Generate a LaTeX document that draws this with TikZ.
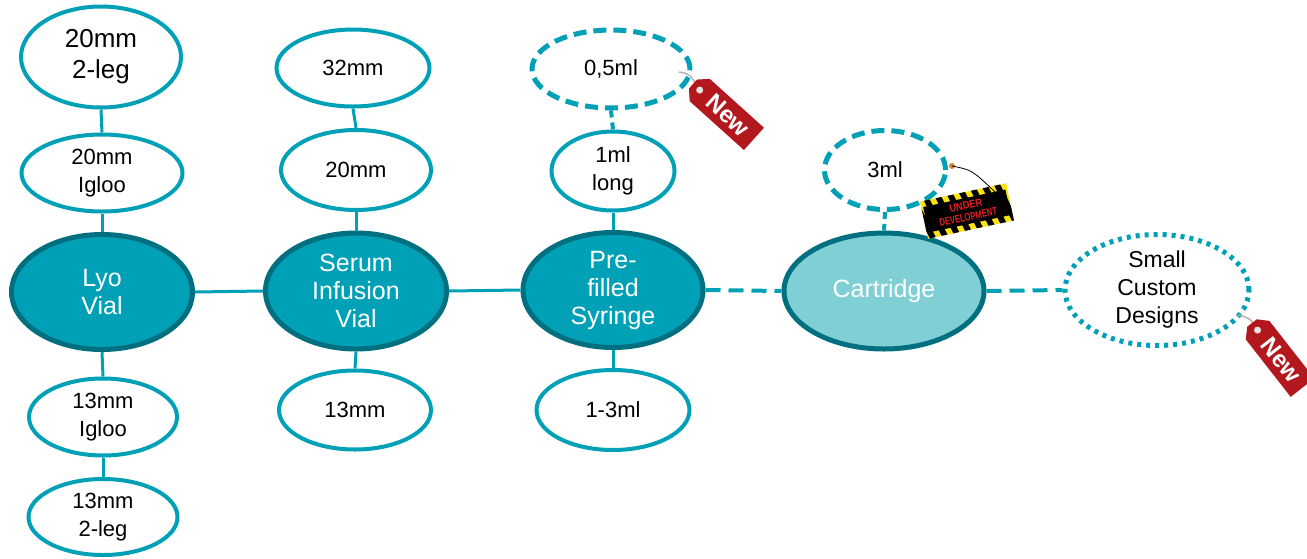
\documentclass[tikz,border=0pt]{standalone}
\usepackage{fontspec}
\setmainfont{Liberation Sans}
\usetikzlibrary{shapes.geometric}
\definecolor{tealline}{RGB}{0,160,183}
\definecolor{tealdark}{RGB}{0,112,128}
\definecolor{teallight}{RGB}{128,207,213}
\definecolor{tagred}{RGB}{178,24,30}
\definecolor{signyellow}{RGB}{250,225,20}
\definecolor{signred}{RGB}{225,30,35}
\definecolor{nailorange}{RGB}{220,130,40}

\tikzset{
  mainnode/.style={ellipse,draw=tealdark,line width=5pt,fill=tealline,text=white,inner sep=0pt,align=center,font=\fontsize{25}{28}\selectfont},
  subnode/.style={ellipse,draw=tealline,line width=4pt,fill=white,inner sep=0pt,align=center,font=\fontsize{22}{28}\selectfont},
  subdash/.style={subnode,line width=5pt,dash pattern=on 13pt off 7pt},
  subdot/.style={subnode,line width=5pt,dash pattern=on 4pt off 5pt},
  conn/.style={draw=tealline,line width=3pt},
  conndash/.style={conn,line width=4pt,dash pattern=on 15pt off 8pt},
  signtext/.style={text=signred,inner sep=0pt,font=\fontsize{11}{11}\selectfont\bfseries,transform shape},
}

\newcommand{\drawnewtag}[2]{%
  \begin{scope}[shift={#1},rotate=#2]
    \fill[tagred] (0,-6) -- (9,-15) -- (82,-15) -- (82,15) -- (9,15) -- (0,6) -- cycle;
    \fill[white!80!gray] (9,0) circle (3.5pt);
    \node[text=white,inner sep=0pt,font=\fontsize{24}{24}\selectfont\bfseries,transform shape] at (47,0) {New};
  \end{scope}}

\begin{document}
\begin{tikzpicture}[x=1pt,y=-1pt]
\useasboundingbox (0,0) rectangle (1307,558);
\clip (0,0) rectangle (1307,558);

\node[mainnode,minimum width=181pt,minimum height=115pt] (lyo) at (102,292) {Lyo\\Vial};
\node[mainnode,minimum width=181pt,minimum height=116pt] (serum) at (356,291) {Serum\\Infusion\\Vial};
\node[mainnode,minimum width=180pt,minimum height=115pt] (syringe) at (613,290) {Pre-\\filled\\Syringe};
\node[mainnode,fill=teallight,minimum width=200pt,minimum height=116pt] (cartridge) at (884,291) {Cartridge};
\node[subdot,minimum width=184pt,minimum height=111pt,font=\fontsize{23}{28}\selectfont] (custom) at (1157,290) {Small\\Custom\\Designs};

\node[subnode,minimum width=160pt,minimum height=101pt,font=\fontsize{26}{31}\selectfont] (leg20) at (101,57) {20mm\\2-leg};
\node[subnode,minimum width=161pt,minimum height=77pt] (igloo20) at (102,173) {20mm\\Igloo};
\node[subnode,minimum width=148pt,minimum height=77pt] (igloo13) at (103,417) {13mm\\Igloo};
\node[subnode,minimum width=149pt,minimum height=76pt] (leg13) at (103,517) {13mm\\2-leg};

\node[subnode,minimum width=153pt,minimum height=77pt] (mm32) at (353,68) {32mm};
\node[subnode,minimum width=150pt,minimum height=80pt] (mm20) at (356,170) {20mm};
\node[subnode,minimum width=152pt,minimum height=79pt] (mm13) at (355,410) {13mm};

\node[subdash,minimum width=158pt,minimum height=78pt] (ml05) at (611,69) {0,5ml};
\node[subnode,minimum width=123pt,minimum height=79pt] (ml1long) at (613,171) {1ml\\long};
\node[subnode,minimum width=153pt,minimum height=80pt] (ml13) at (613,410) {1-3ml};

\node[subdash,minimum width=121pt,minimum height=79pt] (ml3) at (885,170) {3ml};

\draw[conn] (leg20.south) -- (igloo20.north);
\draw[conn] (igloo20.south) -- (lyo.north);
\draw[conn] (lyo.south) -- (igloo13.north);
\draw[conn] (igloo13.south) -- (leg13.north);
\draw[conn] (mm32.south) -- (mm20.north);
\draw[conn] (mm20.south) -- (serum.north);
\draw[conn] (serum.south) -- (mm13.north);
\draw[conndash,dash pattern=on 7pt off 5pt] (ml05.south) -- (ml1long.north);
\draw[conn] (ml1long.south) -- (syringe.north);
\draw[conn] (syringe.south) -- (ml13.north);
\draw[conndash,dash pattern=on 7pt off 5pt] (ml3.south) -- (cartridge.north);
\draw[conn] (lyo.east) -- (serum.west);
\draw[conn] (serum.east) -- (syringe.west);
\draw[conndash] (syringe.east) -- (cartridge.west);
\draw[conndash] (cartridge.east) -- (custom.west);

\draw[gray!60,line width=1.5pt] (679,72) .. controls (690,74) .. (699,89);
\drawnewtag{(693,84)}{-42}
\draw[gray!60,line width=1.5pt] (1238,315) .. controls (1250,318) .. (1257,329);
\drawnewtag{(1252,323)}{-52}

\begin{scope}[shift={(967,211)},rotate=12]
  \fill[signyellow] (-44,-19) rectangle (44,19);
  \begin{scope}
    \clip (-44,-19) rectangle (44,19);
    \foreach \s in {-64,-52,...,64}
      \fill[black] (\s,-19) -- ++(6,0) -- ++(10,38) -- ++(-6,0) -- cycle;
  \end{scope}
  \fill[black] (-42,-13) rectangle (42,13);
  \node[signtext] at (0,-5.5) {\scalebox{0.85}[1]{UNDER}};
  \node[signtext] at (0,6) {\scalebox{0.7}[1]{DEVELOPMENT}};
\end{scope}
\fill[nailorange] (952,166) circle (3pt);
\draw[black,line width=0.8pt] (952,166) .. controls (972,170) .. (995,192);

\end{tikzpicture}
\end{document}
